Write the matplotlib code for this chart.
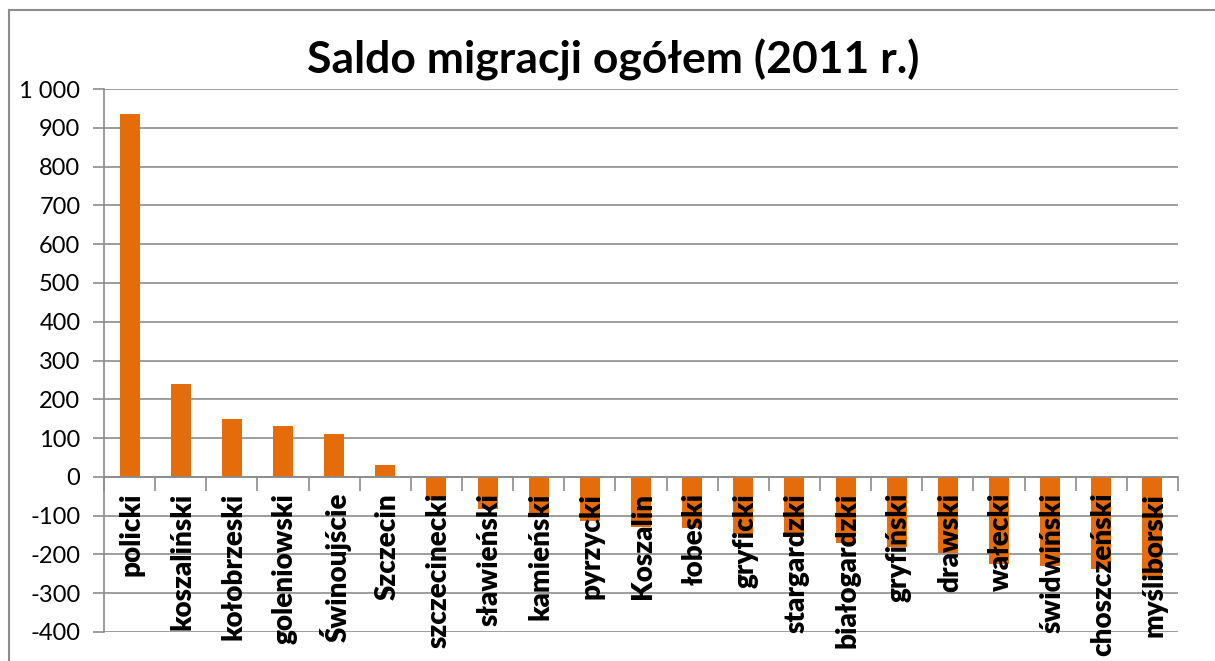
import matplotlib
matplotlib.use("Agg")
import matplotlib.pyplot as plt
import matplotlib.transforms as mtransforms
from matplotlib.lines import Line2D
from matplotlib.ticker import FuncFormatter, FixedLocator

# Data
powiaty = ["policki", "koszaliński", "kołobrzeski", "goleniowski", "Świnoujście",
           "Szczecin", "szczecinecki", "sławieński", "kamieński", "pyrzycki",
           "Koszalin", "łobeski", "gryficki", "stargardzki", "białogardzki",
           "gryfiński", "drawski", "wałecki", "świdwiński", "choszczeński",
           "myśliborski"]
saldo = [936, 240, 148, 131, 110, 31, -60, -82, -104, -114, -128, -133,
         -147, -156, -171, -180, -196, -225, -231, -238, -261]
title = "Saldo migracji ogółem (2011 r.)"

bar_color = "#E46C0A"
grid_color = "#8C8C8C"

plt.rcParams['font.family'] = ['Lato', 'DejaVu Sans']

fig = plt.figure(figsize=(12.15, 6.61), dpi=100)
ax = fig.add_axes([104 / 1215, 1 - 632 / 661, (1178 - 104) / 1215, (632 - 89) / 661])

x = list(range(len(powiaty)))
ax.bar(x, saldo, width=0.39, color=bar_color, zorder=3)

ax.set_xlim(-0.5, len(powiaty) - 0.5)
ax.set_ylim(-400, 1000)
ax.set_yticks(range(-400, 1001, 100))
ax.yaxis.set_major_formatter(FuncFormatter(lambda v, p: f"{int(v):,}".replace(",", " ")))
ax.yaxis.grid(True, color=grid_color, linewidth=1.2, zorder=0)
ax.tick_params(axis='y', length=8, width=1.2, color=grid_color, labelsize=17, pad=9)

for s in ["top", "right"]:
    ax.spines[s].set_visible(False)
ax.spines["left"].set_color(grid_color)
ax.spines["left"].set_linewidth(1.2)
ax.spines["bottom"].set_position(("data", 0))
ax.spines["bottom"].set_color(grid_color)
ax.spines["bottom"].set_linewidth(1.2)
ax.spines["bottom"].set_zorder(4)
ax.xaxis.set_major_locator(FixedLocator([i - 0.5 for i in range(len(powiaty) + 1)]))
ax.tick_params(axis='x', length=10, width=1.2, color=grid_color, labelbottom=False)

# category labels placed just under the zero line
lab_tr = mtransforms.offset_copy(ax.transData, fig=fig, x=2, y=-16, units='dots')
for i, name in enumerate(powiaty):
    ax.text(i, 0, name, rotation=90, ha='center', va='top', fontsize=20,
            fontweight='heavy', transform=lab_tr, zorder=5, clip_on=False)

fig.text(613 / 1215, 1 - 60 / 661, title, ha='center', va='center',
         fontsize=32, fontweight='bold')

# outer chart frame
fig.add_artist(Line2D([9 / 1215, 9 / 1215], [0, 1 - 10 / 661], transform=fig.transFigure,
                      color=grid_color, linewidth=1.5))
fig.add_artist(Line2D([9 / 1215, 1], [1 - 10 / 661, 1 - 10 / 661], transform=fig.transFigure,
                      color=grid_color, linewidth=1.5))

fig.savefig("out.png", dpi=100)
